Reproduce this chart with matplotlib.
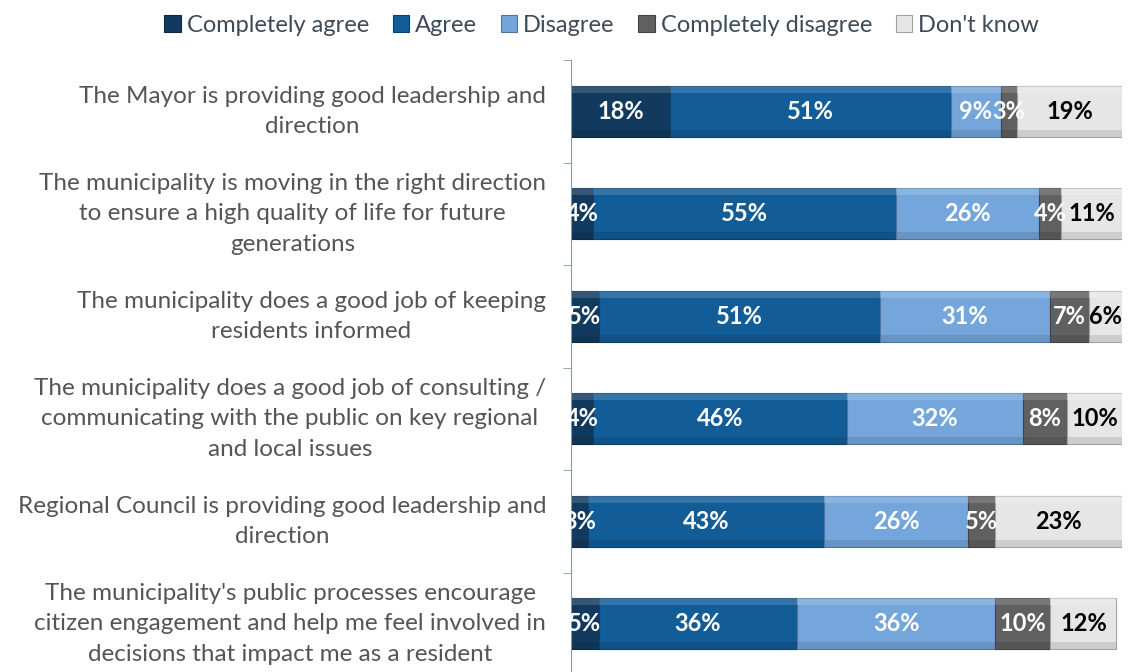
import numpy as np
import matplotlib.pyplot as plt
import matplotlib.colors as mcolors

statements = [
    "The Mayor is providing good leadership and\ndirection",
    "The municipality is moving in the right direction\nto ensure a high quality of life for future\ngenerations",
    "The municipality does a good job of keeping\nresidents informed",
    "The municipality does a good job of consulting /\ncommunicating with the public on key regional\nand local issues",
    "Regional Council is providing good leadership and\ndirection",
    "The municipality's public processes encourage\ncitizen engagement and help me feel involved in\ndecisions that impact me as a resident",
]
series = ["Completely agree", "Agree", "Disagree", "Completely disagree", "Don't know"]
completely_agree = [18, 4, 5, 4, 3, 5]
agree = [51, 55, 51, 46, 43, 36]
disagree = [9, 26, 31, 32, 26, 36]
completely_disagree = [3, 4, 7, 8, 5, 10]
dont_know = [19, 11, 6, 10, 23, 12]

colors = ["#123a5e", "#125c98", "#74a6dc", "#606060", "#e6e6e6"]
label_colors = ["white", "white", "white", "white", "black"]

plt.rcParams['font.family'] = ['Lato', 'DejaVu Sans']

fig = plt.figure(figsize=(11.31, 6.72), dpi=100)
ax = fig.add_axes([571 / 1131, -3 / 672, 551 / 1131, 615 / 672])

data = np.array([completely_agree, agree, disagree, completely_disagree, dont_know], dtype=float)
y = np.arange(len(statements))
h = 0.5
left = np.zeros(len(statements))
handles = []
for i, name in enumerate(series):
    vals = data[i]
    base = mcolors.to_rgb(colors[i])
    light = tuple(min(1, c + (1 - c) * 0.3) for c in base)
    dark = tuple(c * 0.7 for c in base)
    b = ax.barh(y, vals, left=left, height=h, color=colors[i],
                edgecolor=dark, linewidth=0.8, label=name)
    handles.append(b)
    # rough bevel: light top strip, dark bottom strip
    ax.barh(y - h / 2 + 0.035, vals, left=left, height=0.07, color=light, alpha=0.5, linewidth=0)
    ax.barh(y + h / 2 - 0.035, vals, left=left, height=0.07, color=dark, alpha=0.35, linewidth=0)
    for j, v in enumerate(vals):
        ax.text(left[j] + v / 2, y[j], f"{int(v)}%", ha='center', va='center',
                color=label_colors[i], fontsize=17, fontweight='bold')
    left += vals

ax.set_xlim(0, 100)
ax.set_ylim(len(statements) - 0.5, -0.5)
ax.set_yticks(y)
ax.set_yticklabels(statements, fontsize=17.5, color="#555555", multialignment='center',
                   linespacing=1.55, va='center')
ax.set_yticks(np.arange(len(statements) + 1) - 0.5, minor=True)
ax.tick_params(axis='y', which='major', length=0, pad=18)
ax.tick_params(axis='y', which='minor', length=6, color="#8a96a3", direction='out')
ax.set_xticks([])
for s in ['top', 'right', 'bottom']:
    ax.spines[s].set_visible(False)
ax.spines['left'].set_color("#8a96a3")

fig.legend(handles=handles, labels=series, loc='upper center', bbox_to_anchor=(0.532, 1.01),
           ncol=5, frameon=False, fontsize=17, handlelength=0.7, handleheight=0.7,
           handletextpad=0.25, columnspacing=1.0, labelcolor="#3d4a57")

fig.savefig("out.png", dpi=100)
